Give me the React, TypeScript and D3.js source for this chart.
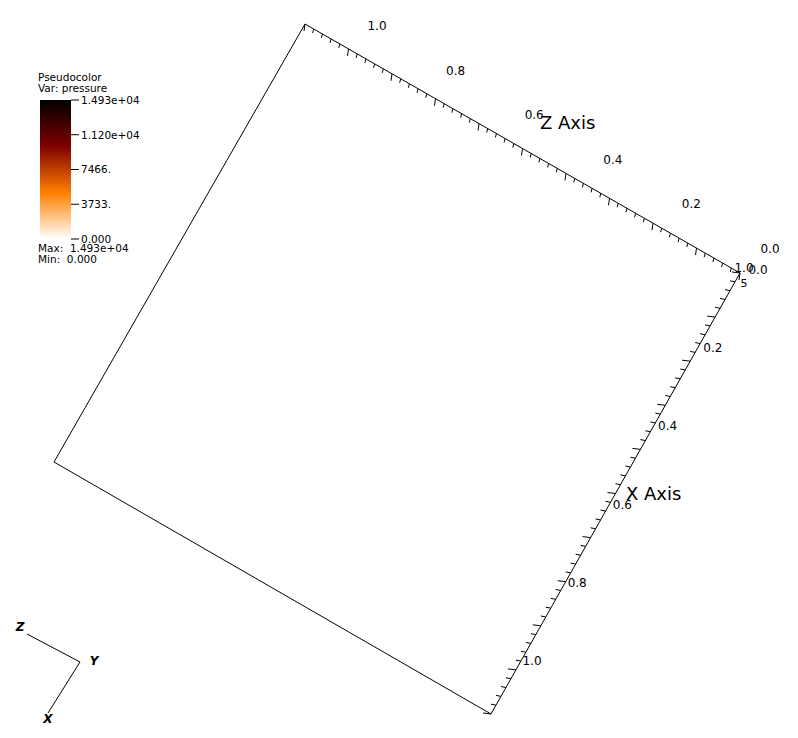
import React from 'react';
import * as d3 from 'd3';

// axis tick labels
const zLabels = [0.0, 0.2, 0.4, 0.6, 0.8, 1.0];
const xLabels = [0.0, 0.2, 0.4, 0.6, 0.8, 1.0];
// legend
const legendTicks = ['0.000', '3733.', '7466.', '1.120e+04', '1.493e+04'];
const legendValues = [0, 3733, 7466, 11200, 14930];
const colorStops = ['#ffffff', '#ff8000', '#800000', '#000000'];
const varName = 'pressure';
const maxVal = '1.493e+04';
const minVal = '0.000';

const W = 798;
const H = 738;

// box corners in screen space
const top = [305, 24];
const right = [740, 273];
const bottom = [491, 714];
const left = [54, 462];

export default function App() {
  // z axis: 0 at right corner, 1 at top corner
  const zx = d3.scaleLinear().domain([0, 1]).range([right[0], top[0]]);
  const zy = d3.scaleLinear().domain([0, 1]).range([right[1], top[1]]);
  const zlx = d3.scaleLinear().domain([0, 1]).range([770, 377]);
  const zly = d3.scaleLinear().domain([0, 1]).range([249, 26]);
  // x axis: 0 at right corner, 1 at bottom corner
  const xx = d3.scaleLinear().domain([0, 1]).range([right[0], bottom[0]]);
  const xy = d3.scaleLinear().domain([0, 1]).range([right[1], bottom[1]]);
  const xlx = d3.scaleLinear().domain([0, 1]).range([758, 532]);
  const xly = d3.scaleLinear().domain([0, 1]).range([270, 661]);

  const minor = d3.range(0, 51).map(i => i / 50);

  const ly = d3.scaleLinear().domain([0, 14930]).range([239, 100]);
  const fmt = d3.format('.1f');

  const font = 'DejaVu Sans, sans-serif';

  return (
    <svg width={W} height={H} style={{ position: 'absolute', left: 0, top: 0, background: '#fff' }}>
      <defs>
        <linearGradient id="pc" x1="0" y1="1" x2="0" y2="0">
          {colorStops.map((c, i) => (
            <stop key={i} offset={i / (colorStops.length - 1)} stopColor={c} />
          ))}
        </linearGradient>
      </defs>

      {/* box edges */}
      <g stroke="#000" strokeWidth={1} fill="none">
        <line x1={top[0]} y1={top[1]} x2={left[0]} y2={left[1]} />
        <line x1={left[0]} y1={left[1]} x2={bottom[0]} y2={bottom[1]} />
        <line x1={top[0]} y1={top[1]} x2={right[0]} y2={right[1]} />
        <line x1={right[0]} y1={right[1]} x2={bottom[0]} y2={bottom[1]} />
      </g>

      {/* axis ticks */}
      <g stroke="#000" strokeWidth={1}>
        {minor.map((v, i) => {
          const len = i % 5 === 0 ? 7 : 4;
          return <line key={'z' + i} x1={zx(v)} y1={zy(v)} x2={zx(v) - 1} y2={zy(v) + len} />;
        })}
        {minor.map((v, i) => {
          const len = i % 5 === 0 ? 8 : 5;
          return <line key={'x' + i} x1={xx(v)} y1={xy(v)} x2={xx(v) - len} y2={xy(v) - 1} />;
        })}
      </g>

      <g fontFamily={font} fontSize={12} textAnchor="middle" dominantBaseline="central" fill="#000">
        {zLabels.map(v => (
          <text key={'zl' + v} x={zlx(v)} y={zly(v)}>{fmt(v)}</text>
        ))}
        {xLabels.map(v => (
          <text key={'xl' + v} x={xlx(v)} y={xly(v)}>{fmt(v)}</text>
        ))}
        <text x={744} y={268}>1.0</text>
        <text x={744} y={283} fontSize={11}>5</text>
      </g>
      <g fontFamily={font} fontSize={18} fill="#000" dominantBaseline="central">
        <text x={540} y={122}>Z Axis</text>
        <text x={626} y={493}>X Axis</text>
      </g>

      {/* legend */}
      <g fontFamily={font} fontSize={10.5} fill="#000">
        <text x={38} y={81}>Pseudocolor</text>
        <text x={38} y={92}>Var: {varName}</text>
        <rect x={40} y={100} width={31} height={139} fill="url(#pc)" />
        {legendValues.map((v, i) => (
          <g key={'lg' + i}>
            <line x1={71} x2={79} y1={ly(v)} y2={ly(v)} stroke="#000" strokeWidth={1} />
            <text x={81} y={ly(v)} dominantBaseline="central">{legendTicks[i]}</text>
          </g>
        ))}
        <text x={38} y={252} xmlSpace="preserve">Max:  {maxVal}</text>
        <text x={38} y={263} xmlSpace="preserve">Min:  {minVal}</text>
      </g>

      {/* triad */}
      <g stroke="#000" strokeWidth={1}>
        <line x1={27} y1={634} x2={80} y2={662} />
        <line x1={80} y1={662} x2={48} y2={713} />
      </g>
      <g fontFamily={font} fontSize={12} fontWeight="bold" fontStyle="italic" textAnchor="middle" dominantBaseline="central">
        <text x={20} y={627}>Z</text>
        <text x={94} y={661}>Y</text>
        <text x={48} y={719}>X</text>
      </g>
    </svg>
  );
}
